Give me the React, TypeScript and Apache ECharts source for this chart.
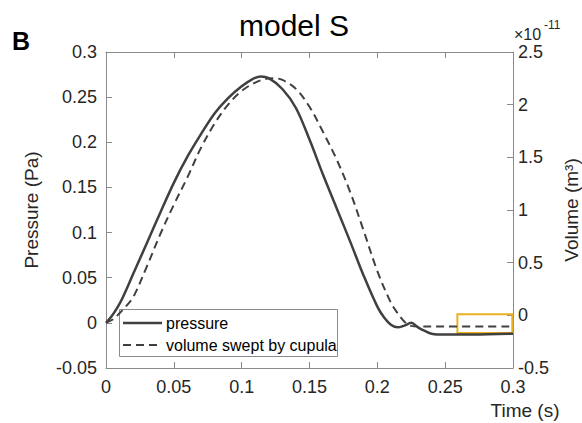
import React, { useEffect, useRef } from "react";
import * as echarts from "echarts";

// time (s) and pressure (Pa)
const pressureT = [0, 0.004, 0.008, 0.012, 0.02, 0.03, 0.04, 0.05, 0.06, 0.07, 0.08, 0.09, 0.1, 0.108, 0.114, 0.12, 0.13, 0.14, 0.15, 0.16, 0.17, 0.18, 0.19, 0.2, 0.205, 0.21, 0.215, 0.22, 0.225, 0.23, 0.235, 0.24, 0.25, 0.27, 0.3];
const pressureV = [0, 0.007, 0.016, 0.027, 0.054, 0.088, 0.122, 0.155, 0.184, 0.209, 0.232, 0.249, 0.262, 0.27, 0.273, 0.271, 0.259, 0.238, 0.203, 0.164, 0.127, 0.09, 0.052, 0.018, 0.006, -0.002, -0.005, -0.003, 0.0, -0.005, -0.009, -0.012, -0.013, -0.013, -0.012];

// time (s) and volume swept by cupula (x 1e-11 m^3)
const volumeT = [0, 0.005, 0.01, 0.015, 0.02, 0.03, 0.04, 0.05, 0.06, 0.07, 0.08, 0.09, 0.1, 0.11, 0.118, 0.124, 0.13, 0.14, 0.15, 0.16, 0.17, 0.18, 0.19, 0.2, 0.21, 0.215, 0.22, 0.225, 0.23, 0.25, 0.3];
const volumeV = [-0.07, -0.04, 0.02, 0.09, 0.17, 0.46, 0.77, 1.05, 1.31, 1.59, 1.82, 2.0, 2.13, 2.21, 2.245, 2.25, 2.235, 2.15, 1.98, 1.74, 1.48, 1.17, 0.8, 0.42, 0.12, 0.02, -0.06, -0.1, -0.105, -0.105, -0.105];

// highlighted region [t, pressure] corners
const boxCorner1 = [0.259, 0.0095];
const boxCorner2 = [0.2995, -0.0113];

const xRange = [0, 0.3, 0.05];
const yLeftRange = [-0.05, 0.3, 0.05];
const yRightRange = [-0.5, 2.5, 0.5];

const legendLabels = ["pressure", "volume swept by cupula"];

const fmt = (v: number) => String(Math.round(v * 1000) / 1000);

export default function App() {
  const ref = useRef<HTMLDivElement>(null);
  useEffect(() => {
    if (!ref.current) return;
    document.body.style.margin = "0";
    const chart = echarts.init(ref.current, undefined, { renderer: "svg", width: 582, height: 423 });
    const axisColor = "#8a8a8a";
    const labelColor = "#262626";
    const font = "Liberation Sans, Arial, Helvetica, sans-serif";
    const lineColor = "#404040";
    const axisCommon = {
      axisLine: { show: true, onZero: false, lineStyle: { color: axisColor, width: 1 } },
      axisTick: { show: true, inside: true, length: 6, lineStyle: { color: axisColor } },
      splitLine: { show: false },
    };
    chart.setOption({
      animation: false,
      backgroundColor: "#ffffff",
      grid: { left: 106, right: 69, top: 52, bottom: 55, containLabel: false, outerBoundsMode: "none" },
      xAxis: [
        {
          type: "value",
          min: xRange[0],
          max: xRange[1],
          interval: xRange[2],
          position: "bottom",
          ...axisCommon,
          axisLabel: { margin: 10, color: labelColor, fontSize: 18, fontFamily: font, formatter: fmt },
        },
        {
          type: "value",
          min: xRange[0],
          max: xRange[1],
          interval: xRange[2],
          position: "top",
          ...axisCommon,
          axisLabel: { show: false },
        },
      ],
      yAxis: [
        {
          type: "value",
          min: yLeftRange[0],
          max: yLeftRange[1],
          interval: yLeftRange[2],
          position: "left",
          ...axisCommon,
          axisLabel: { margin: 9, color: labelColor, fontSize: 18, fontFamily: font, formatter: fmt },
          name: "Pressure (Pa)",
          nameLocation: "middle",
          nameRotate: 90,
          nameGap: 65,
          nameTextStyle: { color: labelColor, fontSize: 19, fontFamily: font },
        },
        {
          type: "value",
          min: yRightRange[0],
          max: yRightRange[1],
          interval: yRightRange[2],
          position: "right",
          ...axisCommon,
          axisLabel: { margin: 5, color: labelColor, fontSize: 18, lineHeight: 15, fontFamily: font, formatter: fmt },
          name: "Volume (m³)",
          nameLocation: "middle",
          nameRotate: 90,
          nameGap: 49,
          nameTextStyle: { color: labelColor, fontSize: 19, fontFamily: font },
        },
      ],
      series: [
        {
          name: legendLabels[0],
          type: "line",
          xAxisIndex: 0,
          yAxisIndex: 0,
          data: pressureT.map((t, i) => [t, pressureV[i]]),
          showSymbol: false,
          symbol: "none",
          smooth: 0.35,
          lineStyle: { color: lineColor, width: 2.5 },
          z: 3,
          markArea: {
            silent: true,
            itemStyle: { color: "rgba(0,0,0,0)", borderColor: "#EDB120", borderWidth: 2 },
            data: [[{ coord: boxCorner1 }, { coord: boxCorner2 }]],
          },
        },
        {
          name: legendLabels[1],
          type: "line",
          xAxisIndex: 0,
          yAxisIndex: 1,
          data: volumeT.map((t, i) => [t, volumeV[i]]),
          showSymbol: false,
          symbol: "none",
          smooth: 0.35,
          lineStyle: { color: lineColor, width: 2, type: [8, 5] },
          z: 2,
        },
      ],
      graphic: [
        {
          type: "text",
          left: 12,
          top: 28,
          style: { text: "B", fontSize: 25, fontWeight: "bold", fontFamily: font, fill: "#000" },
        },
        {
          type: "text",
          x: 294,
          y: 40,
          style: { text: "model S", fontSize: 30, fontFamily: font, fill: "#000", align: "center", verticalAlign: "bottom" },
        },
        {
          type: "text",
          x: 514,
          y: 42,
          style: { text: "×10", fontSize: 16, lineHeight: 16, fontFamily: font, fill: labelColor, align: "left", verticalAlign: "bottom" },
        },
        {
          type: "text",
          x: 544,
          y: 31,
          style: { text: "-11", fontSize: 12, lineHeight: 12, fontFamily: font, fill: labelColor, align: "left", verticalAlign: "bottom" },
        },
        {
          type: "text",
          x: 525,
          y: 410,
          style: { text: "Time (s)", fontSize: 19, fontFamily: font, fill: labelColor, align: "center", verticalAlign: "middle" },
        },
        {
          type: "group",
          z: 10,
          children: [
            {
              type: "rect",
              shape: { x: 119.5, y: 309.5, width: 218, height: 47 },
              style: { fill: "#fff", stroke: "#8a8a8a", lineWidth: 1 },
            },
            {
              type: "line",
              shape: { x1: 123, y1: 323, x2: 162, y2: 323 },
              style: { stroke: lineColor, lineWidth: 2.5 },
            },
            {
              type: "line",
              shape: { x1: 123, y1: 345, x2: 162, y2: 345 },
              style: { stroke: lineColor, lineWidth: 2, lineDash: [8, 5] },
            },
            {
              type: "text",
              x: 166,
              y: 323,
              style: { text: legendLabels[0], fontSize: 16, fontFamily: font, fill: "#000", verticalAlign: "middle" },
            },
            {
              type: "text",
              x: 166,
              y: 345,
              style: { text: legendLabels[1], fontSize: 16, fontFamily: font, fill: "#000", verticalAlign: "middle" },
            },
          ],
        },
      ],
    });
    return () => chart.dispose();
  }, []);
  return <div ref={ref} style={{ position: "fixed", left: 0, top: 0, width: 582, height: 423 }} />;
}
